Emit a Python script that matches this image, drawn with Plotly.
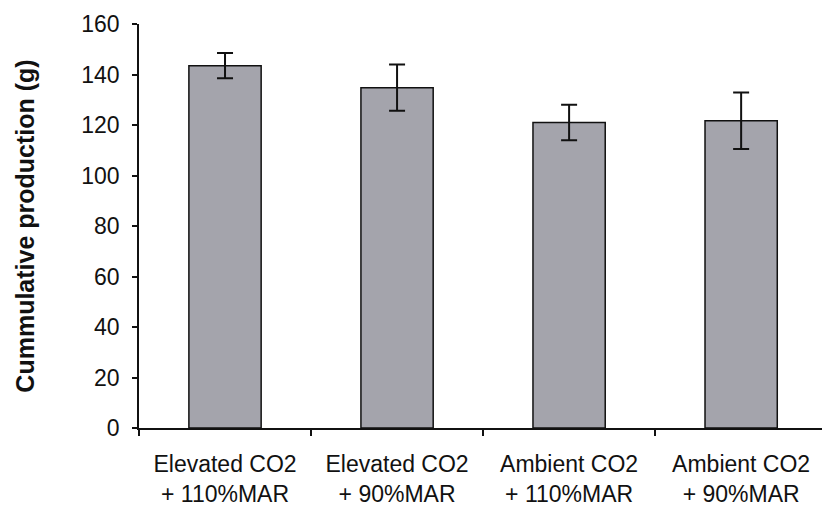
import plotly.graph_objects as go

categories = ["Elevated CO2<br>+ 110%MAR", "Elevated CO2<br>+ 90%MAR",
              "Ambient CO2<br>+ 110%MAR", "Ambient CO2<br>+ 90%MAR"]
production = [143.5, 134.8, 121.0, 121.7]
errors = [5.0, 9.2, 7.0, 11.2]
y_ticks = [0, 20, 40, 60, 80, 100, 120, 140, 160]

fig = go.Figure(go.Bar(
    x=categories, y=production,
    width=0.42,
    marker=dict(color="#a4a4ac", line=dict(color="#111111", width=1.5)),
    error_y=dict(type="data", array=errors, visible=True,
                 color="#111111", thickness=2, width=8),
))

font = "Liberation Sans, Arial, sans-serif"
fig.update_layout(
    width=822, height=517,
    margin=dict(l=139, r=0, t=24, b=89),
    paper_bgcolor="white", plot_bgcolor="white",
    showlegend=False,
    font=dict(family=font, color="#111111"),
)
fig.update_xaxes(
    range=[-0.5, 3.47],
    showline=True, linecolor="#111111", linewidth=1.5,
    ticks="outside", tickson="boundaries", ticklen=6, tickcolor="#111111", tickwidth=1.5,
    tickfont=dict(size=23, family=font),
    ticklabelstandoff=15,
    showgrid=False, zeroline=False,
)
fig.update_yaxes(
    range=[0, 160], tickvals=y_ticks,
    showline=True, linecolor="#111111", linewidth=1.5,
    ticks="outside", ticklen=5, tickcolor="#111111", tickwidth=1.5,
    tickfont=dict(size=23, family=font),
    ticklabelstandoff=8,
    showgrid=False, zeroline=False,
    title=dict(text="<b>Cummulative production (g)</b>", font=dict(size=25, family=font), standoff=40),
)
fig.write_html("out.html")
